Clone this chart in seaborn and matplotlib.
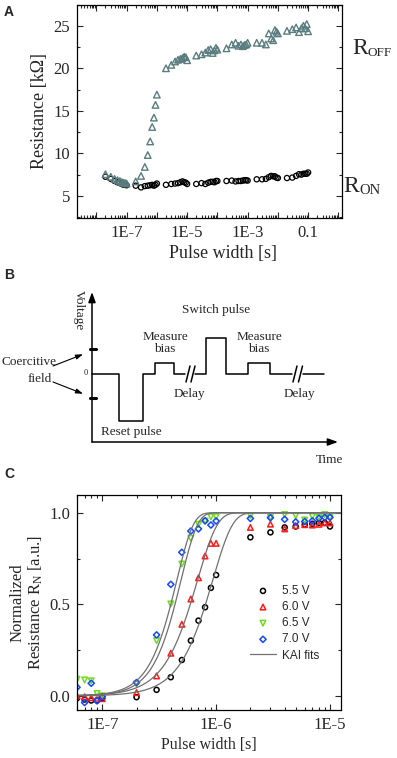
import numpy as np
import pandas as pd
import matplotlib
matplotlib.use("Agg")
import matplotlib.pyplot as plt
import matplotlib.ticker as mticker
import seaborn as sns

# ---- Panel A data: pulse width sweep ----
a_pulse_width = [
    2e-8, 3e-8, 4e-8, 5e-8, 6e-8, 7e-8, 8e-8, 9e-8, 1e-7,
    2e-7, 3e-7, 4e-7, 5e-7, 6e-7, 7e-7, 8e-7, 9e-7, 1e-6,
    2e-6, 3e-6, 4e-6, 5e-6, 6e-6, 7e-6, 8e-6, 9e-6, 1e-5,
    2e-5, 3e-5, 4e-5, 5e-5, 6e-5, 7e-5, 8e-5, 9e-5, 1e-4,
    2e-4, 3e-4, 4e-4, 5e-4, 6e-4, 7e-4, 8e-4, 9e-4, 1e-3,
    2e-3, 3e-3, 4e-3, 5e-3, 6e-3, 7e-3, 8e-3, 9e-3, 1e-2,
    2e-2, 3e-2, 4e-2, 5e-2, 6e-2, 7e-2, 8e-2, 9e-2, 1e-1,
]
r_off = [
    7.55, 7.25, 7.0, 6.85, 6.75, 6.62, 6.55, 6.5, 6.45,
    6.7, 7.35, 8.4, 9.8, 11.4, 13.1, 14.2, 15.7, 16.9,
    20.0, 20.4, 20.8, 21.0, 21.1, 21.2, 21.35, 21.3, 20.95,
    21.5, 21.65, 21.85, 22.15, 22.25, 21.8, 22.1, 22.4, 22.2,
    22.35, 22.8, 23.0, 22.65, 22.8, 22.6, 22.75, 22.8, 23.0,
    23.0, 23.0, 22.8, 24.1, 23.5, 23.3, 24.5, 24.3, 24.1,
    24.4, 24.6, 24.8, 24.25, 24.7, 25.0, 24.7, 25.2, 24.35,
]
r_on = [
    7.25, 7.0, 6.75, 6.6, 6.5, 6.4, 6.3, 6.3, 6.25,
    6.2, 6.0, 6.15, 6.2, 6.25, 6.3, 6.2, 6.3, 6.45,
    6.3, 6.4, 6.45, 6.5, 6.6, 6.7, 6.6, 6.55, 6.4,
    6.4, 6.5, 6.4, 6.55, 6.65, 6.65, 6.6, 6.75, 6.75,
    6.75, 6.8, 6.7, 6.75, 6.75, 6.8, 6.85, 6.85, 6.8,
    6.95, 6.95, 7.0, 7.2, 7.35, 7.3, 7.3, 7.15, 7.1,
    7.1, 7.15, 7.35, 7.55, 7.5, 7.6, 7.6, 7.6, 7.75,
]
a_major_ticks = [1e-7, 1e-5, 1e-3, 1e-1]
a_tick_labels = ["1E-7", "1E-5", "1E-3", "0.1"]

# ---- Panel B schematic: voltage levels of the pulse sequence ----
wave1_time = [0, 2.7, 2.7, 5.1, 5.1, 6.3, 6.3, 8.2, 8.2, 9.35]
wave1_volt = [0, 0, -1.0, -1.0, 0, 0, 0.23, 0.23, 0, 0]
wave2_time = [10.35, 11.4, 11.4, 13.4, 13.4, 15.6, 15.6, 17.8, 17.8, 20.0]
wave2_volt = [0, 0, 0.77, 0.77, 0, 0, 0.23, 0.23, 0, 0]
wave3_time = [21.1, 23.2]
wave3_volt = [0, 0]
break_time = [9.6, 10.1, 20.3, 20.85]
coercive_field = [0.53, -0.51]

# ---- Panel C data: normalized resistance vs pulse width ----
c_pulse_width = [
    6e-8, 7e-8, 8e-8, 9e-8, 1e-7,
    2e-7, 3e-7, 4e-7, 5e-7, 6e-7, 7e-7, 8e-7, 9e-7, 1e-6,
    2e-6, 3e-6, 4e-6, 5e-6, 6e-6, 7e-6, 8e-6, 9e-6, 1e-5,
]
rn_55 = [-0.013, -0.02, -0.025, -0.025, -0.013,
         -0.007, 0.033, 0.102, 0.196, 0.302, 0.411, 0.484, 0.59, 0.66,
         0.866, 0.893, 0.92, 0.925, 0.935, 0.94, 0.945, 0.945, 0.925]
rn_60 = [0.0, -0.005, -0.01, -0.013, -0.015,
         0.018, 0.109, 0.233, 0.391, 0.529, 0.645, 0.764, 0.833, 0.833,
         0.92, 0.938, 0.912, 0.93, 0.935, 0.933, 0.937, 0.945, 0.945]
rn_65 = [0.091, 0.087, 0.082, 0.013, 0.0,
         0.065, 0.302, 0.502, 0.72, 0.86, 0.937, 0.955, 0.978, 0.978,
         0.984, 0.975, 0.99, 0.984, 0.96, 0.98, 0.975, 0.99, 0.975]
rn_70 = [0.047, -0.036, 0.069, -0.027, -0.004,
         0.073, 0.333, 0.609, 0.784, 0.90, 0.912, 0.956, 0.933, 0.955,
         0.969, 0.973, 0.964, 0.95, 0.952, 0.956, 0.97, 0.975, 0.975]
voltages = ["5.5 V", "6.0 V", "6.5 V", "7.0 V"]
# KAI fit parameters R = 1 - exp(-(t/t0)^n)
kai_t0 = [9.34e-7, 6.87e-7, 4.92e-7, 4.52e-7]
kai_n = [2.5, 2.5, 3.0, 3.0]
c_major_ticks = [1e-7, 1e-6, 1e-5]
c_tick_labels = ["1E-7", "1E-6", "1E-5"]

W, H = 397, 758


def rect(left, top, right, bottom):
    # pixel box -> figure fraction
    return [left / W, 1 - bottom / H, (right - left) / W, (bottom - top) / H]


def style_axes(ax):
    ax.tick_params(which="both", direction="in", top=True, right=True,
                   labelsize=12, width=0.8)
    ax.tick_params(which="major", length=4.5, pad=5)
    ax.tick_params(which="minor", length=2.5)
    for s in ax.spines.values():
        s.set_linewidth(0.9)
        s.set_color("black")


def main():
    sns.set_theme(style="ticks")
    plt.rcParams["font.family"] = ["Liberation Serif", "DejaVu Serif"]
    plt.rcParams["mathtext.fontset"] = "custom"
    plt.rcParams["mathtext.rm"] = "Liberation Serif"
    plt.rcParams["mathtext.it"] = "Liberation Serif:italic"

    fig = plt.figure(figsize=(W / 100, H / 100), dpi=100)

    # ----------------------------
    # A) Resistance vs pulse width
    # ----------------------------
    ax_a = fig.add_axes(rect(77, 4.5, 342, 218))
    df_a = pd.DataFrame({"pw": a_pulse_width, "off": r_off, "on": r_on})
    sns.scatterplot(data=df_a, x="pw", y="on", ax=ax_a, marker="o", s=14,
                    facecolor="none", edgecolor="black", linewidth=0.9)
    sns.scatterplot(data=df_a, x="pw", y="off", ax=ax_a, marker="^", s=22,
                    facecolor="none", edgecolor="#5a7c7e", linewidth=1.0)
    ax_a.set_xscale("log")
    ax_a.set_xlim(10 ** -8.64, 10 ** 0.12)
    ax_a.set_ylim(2.4, 27.5)
    ax_a.set_yticks([5, 10, 15, 20, 25])
    ax_a.yaxis.set_minor_locator(mticker.MultipleLocator(2.5))
    ax_a.xaxis.set_major_locator(mticker.LogLocator(base=10, numticks=20))
    ax_a.xaxis.set_major_formatter(mticker.FuncFormatter(
        lambda v, p: next((lab for t, lab in zip(a_major_ticks, a_tick_labels)
                           if np.isclose(v, t)), "")))
    ax_a.xaxis.set_minor_locator(mticker.LogLocator(base=10, subs=np.arange(2, 10), numticks=50))
    ax_a.xaxis.set_minor_formatter(mticker.NullFormatter())
    style_axes(ax_a)
    ax_a.set_xlabel("Pulse width [s]", fontsize=13, labelpad=3)
    ax_a.xaxis.set_label_coords(0.55, -0.125)
    ax_a.set_ylabel("Resistance [k\u03a9]", fontsize=13, labelpad=4)
    # R_OFF / R_ON side labels
    fig.text(352 / W, 1 - 48 / H, "R", fontsize=17, va="center", ha="left")
    fig.text(367 / W, 1 - 53 / H, "OFF", fontsize=9.5, va="center", ha="left")
    fig.text(343 / W, 1 - 186 / H, "R", fontsize=17, va="center", ha="left")
    fig.text(359 / W, 1 - 190 / H, "ON", fontsize=10.5, va="center", ha="left")

    # ----------------------------
    # B) Pulse scheme
    # ----------------------------
    ax_b = fig.add_axes(rect(0, 262, 397, 470))
    ax_b.set_axis_off()
    ax_b.set_xlim(-9.2, 30.5)
    ax_b.set_ylim((374 - 470) / 47, (374 - 262) / 47)
    lw = 1.1
    for tt, vv in [(wave1_time, wave1_volt), (wave2_time, wave2_volt), (wave3_time, wave3_volt)]:
        ax_b.plot(tt, vv, color="black", lw=lw)
    for bt in break_time:
        ax_b.plot([bt - 0.2, bt + 0.2], [-0.17, 0.17], color="black", lw=lw)
    y0 = (374 - 442) / 47
    ax_b.annotate("", xy=(0, (374 - 292) / 47), xytext=(0, y0),
                  arrowprops=dict(arrowstyle="-|>,head_length=0.5,head_width=0.18",
                                  color="black", lw=lw, shrinkA=0, shrinkB=0))
    ax_b.annotate("", xy=(24.6, y0), xytext=(0, y0),
                  arrowprops=dict(arrowstyle="-|>,head_length=0.5,head_width=0.18",
                                  color="black", lw=lw, shrinkA=0, shrinkB=0))
    for cf in coercive_field:
        ax_b.plot([-0.15, 0.4], [cf, cf], color="black", lw=2.2)
    ax_b.annotate("", xy=(-0.9, 0.42), xytext=(-3.9, 0.17),
                  arrowprops=dict(arrowstyle="-|>,head_length=0.35,head_width=0.12",
                                  color="black", lw=0.8, shrinkA=0, shrinkB=0))
    ax_b.annotate("", xy=(-0.9, -0.42), xytext=(-3.9, -0.17),
                  arrowprops=dict(arrowstyle="-|>,head_length=0.35,head_width=0.12",
                                  color="black", lw=0.8, shrinkA=0, shrinkB=0))
    fs = 9.5
    ax_b.text(-1.3, 1.36, "Voltage", rotation=270, fontsize=fs, ha="center", va="center")
    ax_b.text(-6.35, 0.255, "Coercitive", fontsize=fs, ha="center", va="center")
    ax_b.text(-5.2, -0.106, "field", fontsize=fs, ha="center", va="center")
    ax_b.text(-0.6, 0.03, "0", fontsize=6, ha="center", va="center")
    ax_b.text(7.3, 0.65, "Measure\nbias", fontsize=fs, ha="center", va="center", linespacing=1.0)
    ax_b.text(16.7, 0.65, "Measure\nbias", fontsize=fs, ha="center", va="center", linespacing=1.0)
    ax_b.text(12.4, 1.36, "Switch pulse", fontsize=fs, ha="center", va="center")
    ax_b.text(9.7, -0.43, "Delay", fontsize=fs, ha="center", va="center")
    ax_b.text(20.7, -0.43, "Delay", fontsize=fs, ha="center", va="center")
    ax_b.text(3.9, -1.23, "Reset pulse", fontsize=fs, ha="center", va="center")
    ax_b.text(23.8, -1.83, "Time", fontsize=fs, ha="center", va="center")

    # ----------------------------
    # C) Normalized resistance with KAI fits
    # ----------------------------
    ax_c = fig.add_axes(rect(77, 495, 341, 710))
    series = [
        (rn_55, "o", "black", 13),
        (rn_60, "^", "#ff1a1a", 16),
        (rn_65, "v", "#6fdc1c", 16),
        (rn_70, "D", "#1447ff", 10),
    ]
    t_fit = np.logspace(np.log10(6e-8), np.log10(1.3e-5), 400)
    for i, (vals, mk, col, sz) in enumerate(series):
        fit = 1 - np.exp(-(t_fit / kai_t0[i]) ** kai_n[i])
        sns.lineplot(x=t_fit, y=fit, ax=ax_c, color="#707070", lw=0.9,
                     label="KAI fits" if i == 0 else None, legend=False)
    for i, (vals, mk, col, sz) in enumerate(series):
        sns.scatterplot(x=c_pulse_width, y=vals, ax=ax_c, marker=mk, s=sz,
                        facecolor="none", edgecolor=col, linewidth=1.1,
                        label=voltages[i], legend=False)
    ax_c.set_xscale("log")
    ax_c.set_xlim(6e-8, 1.25e-5)
    ax_c.set_ylim(-0.077, 1.097)
    ax_c.set_yticks([0.0, 0.5, 1.0])
    ax_c.yaxis.set_major_formatter(mticker.FormatStrFormatter("%.1f"))
    ax_c.yaxis.set_minor_locator(mticker.MultipleLocator(0.25))
    ax_c.set_xticks(c_major_ticks)
    ax_c.set_xticklabels(c_tick_labels)
    ax_c.xaxis.set_minor_locator(mticker.LogLocator(base=10, subs=np.arange(2, 10), numticks=50))
    ax_c.xaxis.set_minor_formatter(mticker.NullFormatter())
    style_axes(ax_c)
    ax_c.set_xlabel("Pulse width [s]", fontsize=11.5, labelpad=3)
    ax_c.set_ylabel("Normalized\nResistance R$_{\\mathrm{N}}$ [a.u.]", fontsize=12,
                    labelpad=3, linespacing=1.1)

    handles, labels = ax_c.get_legend_handles_labels()
    order = [labels.index(v) for v in voltages] + [labels.index("KAI fits")]
    ax_c.legend([handles[k] for k in order], [labels[k] for k in order],
                loc="upper left", bbox_to_anchor=((250 - 77) / 264, (710 - 585) / 215),
                frameon=False, prop={"family": "Liberation Sans", "size": 8.5},
                handlelength=2.2, handletextpad=0.5, labelspacing=0.35,
                borderpad=0, borderaxespad=0)

    # panel letters
    for letter, y in [("A", 12), ("B", 275), ("C", 474)]:
        fig.text(4 / W, 1 - y / H, letter, fontsize=10, fontweight="bold",
                 family="Liberation Sans", va="center", ha="left")

    fig.savefig("out.png", dpi=100)
    plt.close(fig)


if __name__ == "__main__":
    main()
